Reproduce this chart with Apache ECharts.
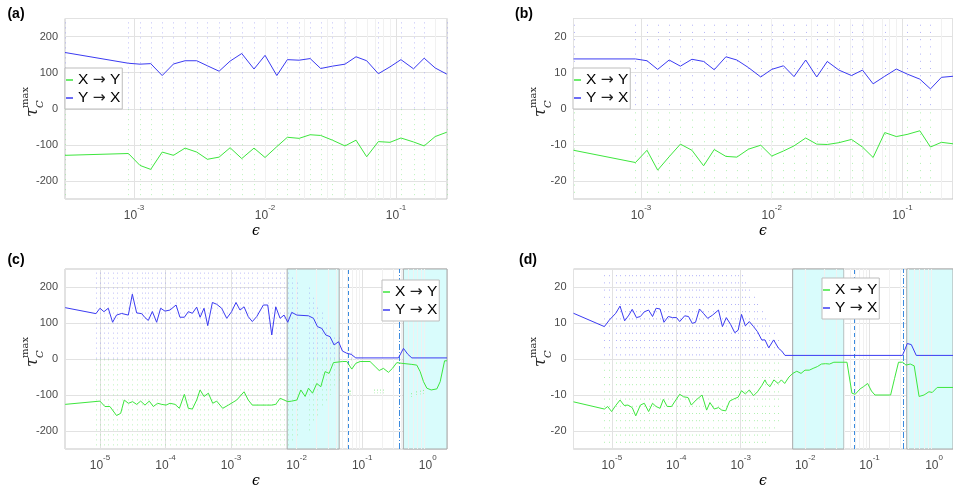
<!DOCTYPE html>
<html><head><meta charset="utf-8">
<script src="https://cdn.jsdelivr.net/npm/echarts@6/dist/echarts.min.js"></script>
<style>html,body{margin:0;padding:0;background:#fff}#c{width:953px;height:490px}</style>
</head><body><div id="c"></div>
<script>
// ---------- data ----------
const abEps = [2.97e-4, 9.06e-4, 1.11e-3, 1.34e-3, 1.64e-3, 2.00e-3, 2.45e-3, 3.01e-3, 3.63e-3, 4.46e-3, 5.41e-3, 6.64e-3, 8.24e-3, 1.00e-2, 1.23e-2, 1.48e-2, 1.82e-2, 2.21e-2, 2.66e-2, 3.27e-2, 4.08e-2, 4.95e-2, 5.97e-2, 7.33e-2, 8.99e-2, 0.109, 0.136, 0.164, 0.199, 0.244];
const aBlue = [155.8,126,123.5,125,92,124,133,133,119,104,132,153,110,148,92,136,134.5,139,111.5,118,123.5,144,133,97,116,136,110.6,140,113,96];
const aGreen = [-129,-124,-157,-168,-120,-129,-109,-120,-140,-134,-108,-138,-109,-135,-105,-79,-82,-72,-74,-87,-103,-87,-133,-91,-93,-81,-92,-103,-77,-65];
const bEps = [3.04e-4, 9.06e-4, 1.11e-3, 1.34e-3, 1.64e-3, 2.00e-3, 2.45e-3, 3.01e-3, 3.63e-3, 4.46e-3, 5.41e-3, 6.64e-3, 8.24e-3, 1.00e-2, 1.23e-2, 1.48e-2, 1.82e-2, 2.21e-2, 2.66e-2, 3.27e-2, 4.08e-2, 4.95e-2, 5.97e-2, 7.33e-2, 8.99e-2, 0.109, 0.136, 0.164, 0.199, 0.244];
const bBlue = [13.8,13.8,13.3,10.9,13.5,11.8,13.7,13.1,10.8,14.4,13.5,11.4,8.8,10.9,11.9,8.9,13.5,8.8,13.1,10.7,9.2,10.7,6.9,9.0,11.0,9.6,8.2,5.5,8.7,9.0];
const bGreen = [-11.5,-14.9,-11.5,-17.0,-13.3,-9.8,-11.5,-15.8,-11.3,-13.2,-13.4,-11.2,-10.1,-13.1,-11.7,-10.3,-8.1,-9.8,-9.9,-9.4,-8.5,-10.6,-13.5,-6.6,-7.7,-7.1,-6.1,-10.6,-9.3,-9.7];

const cBlueEps = [2.95e-6,8.69e-6,1.00e-5,1.15e-5,1.34e-5,1.56e-5,1.79e-5,2.14e-5,2.71e-5,3.12e-5,3.63e-5,4.33e-5,4.86e-5,5.47e-5,6.30e-5,7.33e-5,8.43e-5,9.82e-5,1.17e-4,1.45e-4,1.66e-4,1.94e-4,2.23e-4,2.57e-4,2.99e-4,3.37e-4,3.87e-4,4.41e-4,5.19e-4,6.04e-4,7.19e-4,8.59e-4,1.02e-3,1.19e-3,1.37e-3,1.58e-3,1.83e-3,2.11e-3,2.47e-3,3.11e-3,3.63e-3,4.18e-3,4.81e-3,5.60e-3,6.44e-3,7.33e-3,8.43e-3,1.01e-2,1.52e-2,1.81e-2,2.08e-2,2.42e-2,2.79e-2,3.24e-2,3.73e-2,4.36e-2,5.01e-2,5.83e-2,6.79e-2,8.0e-2,0.358,0.427,0.498,0.573,1.97];
const cBlue = [142.6,126,141,131.5,141,102,122,126.5,122,180,128,126,115,107,132,102,141,133,136,150,116,116,131.5,127,144,116,141,92.6,157,152,141,113,131.5,157,136,145,117.6,104,118,150,150,66.7,145,113,122,102,129.6,122,120,113,90,85,66.7,62,39,48,22,16,13,3,3,29.6,13,3,3];
const cGreenEps = [2.95e-6,1.00e-5,1.19e-5,1.42e-5,1.79e-5,2.07e-5,2.35e-5,2.71e-5,3.15e-5,3.63e-5,4.18e-5,4.86e-5,5.66e-5,6.52e-5,7.59e-5,8.73e-5,1.02e-4,1.17e-4,1.40e-4,1.63e-4,1.94e-4,2.23e-4,2.57e-4,2.99e-4,3.37e-4,3.87e-4,4.51e-4,5.25e-4,6.04e-4,7.46e-4,9.10e-4,1.22e-3,1.58e-3,1.83e-3,2.11e-3,2.77e-3,3.50e-3,4.18e-3,4.81e-3,5.60e-3,6.44e-3,7.33e-3,8.43e-3,1.01e-2,1.16e-2,1.35e-2,1.52e-2,1.75e-2,2.03e-2,2.34e-2,2.72e-2,3.13e-2,3.65e-2,5.01e-2,5.83e-2,6.95e-2,8.0e-2,9.31e-2,0.132,0.158,0.182,0.211,0.252,0.290,0.338,0.403,0.573,0.682,0.767,0.863,0.970,1.13,1.38,1.55,1.81,1.97];
const cGreen = [-126,-117,-132,-132,-157,-151,-114,-123,-118.5,-126,-117,-128,-117,-132,-123,-126,-128,-123,-126,-137,-98,-137,-139,-114,-86,-104,-95,-123,-117,-137,-128,-114,-91,-114,-128,-128,-128,-128,-126,-109,-114,-118.5,-117,-114,-86,-104,-81,-95,-68,-77,-35,-40,-10,-7,-7,-28,-12,-7,-7,-21,-32,-26,-37,-26,-10,-12,-15,-17,-35,-63,-81,-86,-83,-63,-5,-5];

const dBlueEps = [2.54e-6,7.66e-6,9.12e-6,1.15e-5,1.34e-5,1.58e-5,1.84e-5,2.07e-5,2.41e-5,2.77e-5,3.19e-5,3.72e-5,4.28e-5,4.86e-5,5.60e-5,6.44e-5,7.50e-5,8.73e-5,1.01e-4,1.13e-4,1.35e-4,1.55e-4,1.77e-4,1.99e-4,2.29e-4,2.63e-4,3.07e-4,3.66e-4,4.52e-4,5.20e-4,5.98e-4,6.97e-4,8.09e-4,9.12e-4,1.03e-3,1.18e-3,1.36e-3,1.58e-3,1.82e-3,2.12e-3,2.38e-3,2.72e-3,3.24e-3,3.85e-3,4.34e-3,4.86e-3,0.324,0.385,0.444,0.530,1.97];
const dBlue = [12.7,9.0,10.8,12.7,14.7,10.6,12.2,13.8,11.5,11.8,13.1,13.6,11.8,14.1,13.9,10.2,11.8,11.5,11.5,10.4,12.0,11.8,9.9,10.2,13.9,12.7,11.3,12.2,13.6,9.0,11.5,9.6,7.3,8.0,12.4,9.2,10.4,9.0,7.6,5.3,5.3,3.1,5.3,3.0,2.2,1.0,1.0,4.3,4.0,1.0,1.0];
const dGreenEps = [2.54e-6,7.66e-6,8.61e-6,9.91e-6,1.15e-5,1.34e-5,1.55e-5,1.78e-5,2.07e-5,2.35e-5,2.77e-5,3.19e-5,3.72e-5,4.28e-5,4.86e-5,5.60e-5,6.30e-5,7.24e-5,8.43e-5,9.82e-5,1.13e-4,1.30e-4,1.52e-4,1.71e-4,2.03e-4,2.51e-4,2.96e-4,3.33e-4,3.88e-4,4.52e-4,5.08e-4,5.85e-4,6.73e-4,7.83e-4,9.12e-4,1.03e-3,1.18e-3,1.36e-3,1.58e-3,1.82e-3,2.12e-3,2.38e-3,2.52e-3,2.84e-3,3.27e-3,3.80e-3,4.28e-3,4.81e-3,5.60e-3,6.44e-3,7.41e-3,8.63e-3,9.93e-3,1.16e-2,1.33e-2,1.55e-2,1.79e-2,2.08e-2,2.39e-2,2.79e-2,4.46e-2,5.32e-2,5.98e-2,7.13e-2,8.02e-2,9.33e-2,0.107,0.121,0.212,0.244,0.281,0.327,0.367,0.428,0.492,0.586,0.700,0.834,0.938,1.12,1.97];
const dGreen = [-11.9,-13.9,-13.2,-14.6,-12.9,-11.4,-12.9,-12.8,-13.5,-15.8,-12.8,-12.3,-14.6,-12.3,-13.2,-13.7,-11.2,-13.2,-13.2,-11.4,-9.8,-10.5,-10.7,-12.8,-11.4,-10.0,-14.2,-12.1,-13.9,-13.5,-14.2,-14.4,-11.7,-11.1,-10.6,-8.8,-9.7,-8.6,-10.2,-9.1,-7.4,-5.8,-6.8,-7.7,-5.8,-6.8,-5.8,-6.8,-5.0,-4.0,-3.4,-4.0,-3.1,-3.1,-2.6,-2.1,-1.4,-1.3,-1.4,-0.9,-0.9,-9.5,-9.8,-8.3,-7.7,-6.8,-8.9,-10.0,-10.0,-5.4,-0.9,-0.9,-1.7,-1.4,-1.9,-10.4,-10.0,-9.1,-9.3,-7.9,-7.9];

// scatter spread of individual realisations: column eps, upper (blue) / lower (green) extent
const abDotTop = [250,250,250,250,250,250,250,250,250,250,250,250,250,250,250,250,250,250,250,250,250,250,250,250,250,250,250,250,250,250];
const abDotBot = [-250,-250,-250,-250,-250,-250,-250,-250,-250,-250,-250,-250,-250,-250,-250,-250,-250,-250,-250,-250,-250,-250,-250,-250,-250,-250,-250,-250,-250,-250];
const bDotTop = [25,25,25,25,25,25,25,25,25,25,25,25,25,25,25,25,25,25,25,25,25,25,25,25,25,25,25,25,25,25];
const bDotBot = [-25,-25,-25,-25,-25,-25,-25,-25,-25,-25,-25,-25,-25,-25,-25,-25,-25,-25,-25,-25,-25,-25,-25,-25,-25,-25,-25,-25,-25,-25];
const cDotEps = [8.69e-6,1.00e-5,1.15e-5,1.34e-5,1.56e-5,1.79e-5,2.14e-5,2.71e-5,3.12e-5,3.63e-5,4.33e-5,4.86e-5,5.47e-5,6.30e-5,7.33e-5,8.43e-5,9.82e-5,1.17e-4,1.45e-4,1.66e-4,1.94e-4,2.23e-4,2.57e-4,2.99e-4,3.37e-4,3.87e-4,4.41e-4,5.19e-4,6.04e-4,7.19e-4,8.59e-4,1.02e-3,1.19e-3,1.37e-3,1.58e-3,1.83e-3,2.11e-3,2.47e-3,3.11e-3,3.63e-3,4.18e-3,4.81e-3,5.60e-3,6.44e-3,7.33e-3,8.43e-3,1.01e-2,1.52e-2,1.81e-2,2.08e-2,2.42e-2,2.79e-2,3.24e-2,3.73e-2,4.36e-2,5.01e-2,5.83e-2,6.79e-2,8.0e-2];
const cDotTop = [250,250,250,250,250,250,250,250,250,250,250,250,250,250,250,250,250,250,250,250,250,250,250,250,250,250,250,250,250,250,250,250,250,250,250,250,250,250,250,250,250,250,250,250,240,230,220,200,170,150,130,110,90,70,60,40,30,20,15];
const cDotBot = [-250,-250,-250,-250,-250,-250,-250,-250,-250,-250,-250,-250,-250,-250,-250,-250,-250,-250,-250,-250,-250,-250,-250,-250,-250,-250,-250,-250,-250,-250,-250,-250,-250,-250,-250,-250,-250,-250,-250,-250,-250,-250,-250,-250,-240,-230,-220,-200,-180,-160,-140,-120,-100,-80,-60,-40,-30,-20,-15];
// isolated green clusters near -90 in (c)
const cClusterEps = [6.2e-2, 6.6e-2, 0.15, 0.17, 0.19, 0.21, 0.55, 0.66, 0.76, 0.86];
const cClusterLo = [-88, -88, -85, -85, -85, -85, -95, -90, -88, -86];
const cClusterHi = [-98, -98, -95, -95, -95, -95, -105, -100, -98, -96];
const dDotEps = [7.66e-6,9.12e-6,1.15e-5,1.34e-5,1.58e-5,1.84e-5,2.07e-5,2.41e-5,2.77e-5,3.19e-5,3.72e-5,4.28e-5,4.86e-5,5.60e-5,6.44e-5,7.50e-5,8.73e-5,1.01e-4,1.13e-4,1.35e-4,1.55e-4,1.77e-4,1.99e-4,2.29e-4,2.63e-4,3.07e-4,3.66e-4,4.52e-4,5.20e-4,5.98e-4,6.97e-4,8.09e-4,9.12e-4,1.03e-3,1.18e-3,1.36e-3,1.58e-3,1.82e-3,2.12e-3,2.38e-3,2.72e-3,3.24e-3,3.85e-3];
const dDotTop = [25,25,25,25,25,25,25,25,25,25,25,25,25,25,25,25,25,25,25,25,25,25,25,25,25,25,25,25,25,25,25,25,25,25,22,20,18,16,14,12,10,8,6];
const dDotBot = [-25,-25,-25,-25,-25,-25,-25,-25,-25,-25,-25,-25,-25,-25,-25,-25,-25,-25,-25,-25,-25,-25,-25,-25,-25,-25,-25,-25,-25,-25,-25,-25,-25,-25,-25,-25,-25,-25,-25,-25,-22,-20,-18];

// shaded regions & marker lines (c, d)
const cBands = [[7.18e-3, 4.46e-2], [0.425, 1.97]];
const cDashed = 5.98e-2, cDashDot = 0.368;
const dBands = [[6.4e-3, 4.0e-2], [0.377, 1.97]];
const dDashed = 5.64e-2, dDashDot = 0.327;

// ---------- chart ----------
const BLUE = '#3b3bf2', GREEN = '#3de63d';
const DOTB = '#8080f4', DOTG = '#7de87d';
const MARK = '#3a8ade';
const chart = echarts.init(document.getElementById('c'), null, {renderer: 'canvas'});

const grids = [
  {left: 65, top: 18.5, width: 382, height: 180.5},
  {left: 573.5, top: 18.5, width: 384, height: 180.5},
  {left: 65, top: 269, width: 382, height: 180},
  {left: 573.5, top: 269, width: 386, height: 180}
];
const xr = [[2.97e-4, 0.245], [3.04e-4, 0.244], [2.93e-6, 1.97], [2.54e-6, 1.97]];
const yr = [250, 25, 250, 25];
const ystep = [100, 10, 100, 10];

function xFmt(v) {
  const e = Math.round(Math.log10(v));
  if (Math.abs(v / Math.pow(10, e) - 1) > 1e-6) return '';
  return '{b|10}{s|' + e + '}';
}
const xAxes = grids.map((g, i) => ({
  type: 'log', logBase: 10, gridIndex: i, min: xr[i][0], max: xr[i][1],
  axisLine: {show: false}, axisTick: {show: false},
  splitLine: {show: true, lineStyle: {color: '#e2e2e2', width: 1}},
  axisLabel: {
    formatter: xFmt, margin: 5, showMinLabel: false, showMaxLabel: false,
    rich: {
      b: {fontSize: 12, fontFamily: 'Liberation Sans', color: '#4a4a4a', lineHeight: 18, verticalAlign: 'bottom'},
      s: {fontSize: 8, fontFamily: 'Liberation Sans', color: '#4a4a4a', lineHeight: 11, verticalAlign: 'top'}
    }
  }
}));
const yAxes = grids.map((g, i) => ({
  type: 'value', gridIndex: i, min: -yr[i], max: yr[i], splitNumber: 5,
  axisLine: {show: false}, axisTick: {show: false},
  splitLine: {show: true, lineStyle: {color: '#e2e2e2'}},
  axisLabel: {
    margin: 7, fontSize: 11, fontFamily: 'Liberation Sans', color: '#4a4a4a',
    showMinLabel: false, showMaxLabel: false,
    formatter: v => (Math.abs(v % ystep[i]) < 1e-9 ? String(v) : '')
  }
}));

// minor log gridlines (2..9 x 10^k) as axis decoration
function minorLines(i) {
  const out = [];
  for (let k = -7; k <= 1; k++) for (let m = 2; m <= 9; m++) {
    const v = m * Math.pow(10, k);
    if (v > xr[i][0] && v < xr[i][1]) out.push({xAxis: v});
  }
  return out;
}

function segRender(color, dash, op) {
  return function (params, api) {
    const p1 = api.coord([api.value(0), api.value(1)]);
    const p2 = api.coord([api.value(0), api.value(2)]);
    const x = Math.round(p1[0]) + 0.5;
    return {type: 'line', silent: true,
      shape: {x1: x, y1: p1[1], x2: x, y2: p2[1]},
      style: {stroke: color, lineWidth: 1, lineDash: dash, opacity: op}};
  };
}
function segSeries(i, color, dash, op, data, z) {
  return {type: 'custom', xAxisIndex: i, yAxisIndex: i, z: z || 3, silent: true,
    renderItem: segRender(color, dash, op), encode: {x: 0, y: [1, 2]}, data: data, animation: false};
}

const series = [];
function addPanel(i, eB, vB, eG, vG, dotEps, dotTop, dotBot, dash, op, bands, dashed, dashdot) {
  series.push({
    type: 'line', xAxisIndex: i, yAxisIndex: i, data: [], z: 1, silent: true,
    showSymbol: false, animation: false, color: '#f1f1f1',
    markLine: {silent: true, symbol: ['none', 'none'], label: {show: false}, animation: false,
      lineStyle: {color: '#f1f1f1', type: 'solid', width: 1}, data: minorLines(i)}
  });
  if (bands) {
    series.push({
      type: 'line', xAxisIndex: i, yAxisIndex: i, data: [], z: 2, silent: true, animation: false,
      color: '#d9fcfc',
      markArea: {silent: true, label: {show: false},
        itemStyle: {color: '#d9fcfc', borderColor: '#a9a9a9', borderWidth: 1},
        data: bands.map(b => [{xAxis: b[0]}, {xAxis: b[1]}])}
    });
  }
  series.push(segSeries(i, DOTB, dash, op, dotEps.map((e, k) => [e, 1, dotTop[k]])));
  series.push(segSeries(i, DOTG, dash, op, dotEps.map((e, k) => [e, -1, dotBot[k]])));
  if (bands) {
    series.push(segSeries(i, MARK, [4, 3], 1, [[dashed, -yr[i], yr[i]]], 4));
    series.push(segSeries(i, MARK, [6, 2, 1, 2], 1, [[dashdot, -yr[i], yr[i]]], 4));
  }
  series.push({type: 'line', name: 'X → Y', xAxisIndex: i, yAxisIndex: i, z: 5, showSymbol: false,
    animation: false, color: GREEN, lineStyle: {width: 1, color: GREEN},
    data: eG.map((e, k) => [e, vG[k]])});
  series.push({type: 'line', name: 'Y → X', xAxisIndex: i, yAxisIndex: i, z: 5, showSymbol: false,
    animation: false, color: BLUE, lineStyle: {width: 1, color: BLUE},
    data: eB.map((e, k) => [e, vB[k]])});
}
addPanel(0, abEps, aBlue, abEps, aGreen, abEps, abDotTop, abDotBot, [1, 4], 0.5, null);
addPanel(1, bEps, bBlue, bEps, bGreen, bEps, bDotTop, bDotBot, [1, 6.22], 0.6, null);
addPanel(2, cBlueEps, cBlue, cGreenEps, cGreen, cDotEps, cDotTop, cDotBot, [1, 4], 0.5, cBands, cDashed, cDashDot);
addPanel(3, dBlueEps, dBlue, dGreenEps, dGreen, dDotEps, dDotTop, dDotBot, [1, 6.2], 0.6, dBands, dDashed, dDashDot);
series.push(segSeries(2, DOTG, [1, 2], 0.8, cClusterEps.map((e, k) => [e, cClusterLo[k], cClusterHi[k]])));

const legendPos = [[65, 68], [573, 68], [382, 280], [822, 278]];
const legends = legendPos.map(p => ({
  left: p[0], top: p[1], orient: 'vertical', data: ['X → Y', 'Y → X'], z: 50,
  backgroundColor: '#fff', borderColor: '#bdbdbd', borderWidth: 1, borderRadius: 0,
  padding: [4, 2, 3, 1], itemGap: 2, itemWidth: 7, itemHeight: 1.5, icon: 'rect',
  selectedMode: false,
  formatter: n => '{t|' + n.charAt(0) + ' }{a|→}{t| ' + n.charAt(4) + '}',
  textStyle: {fontSize: 15.5, color: '#000', fontFamily: 'Liberation Sans',
    rich: {t: {fontSize: 15.5, fontFamily: 'Liberation Sans', color: '#000'},
           a: {fontSize: 15.5, fontFamily: 'DejaVu Sans', color: '#222'}}}
}));

function yName(x, y) {
  return {type: 'group', x: x, y: y, rotation: Math.PI / 2, silent: true, children: [
    {type: 'text', x: 0, y: 0, style: {text: 'τ', font: 'italic 17px "DejaVu Serif"', fill: '#262626', verticalAlign: 'middle'}},
    {type: 'text', x: 9, y: -3, style: {text: 'max', font: '10px "DejaVu Serif"', fill: '#262626', verticalAlign: 'bottom'}},
    {type: 'text', x: 9, y: 2, style: {text: 'C', font: 'italic 10px "DejaVu Serif"', fill: '#262626', verticalAlign: 'top'}}
  ]};
}
function txt(x, y, t, font) {
  return {type: 'text', x: x, y: y, silent: true, style: {text: t, font: font, fill: '#000', align: 'center', verticalAlign: 'middle'}};
}
const graphic = [
  txt(16, 14, '(a)', 'bold 14px "Liberation Sans"'),
  txt(524, 14, '(b)', 'bold 14px "Liberation Sans"'),
  txt(16, 260, '(c)', 'bold 14px "Liberation Sans"'),
  txt(528, 260, '(d)', 'bold 14px "Liberation Sans"'),
  txt(256, 231, 'ϵ', 'italic 14px "DejaVu Serif"'),
  txt(763, 231, 'ϵ', 'italic 14px "DejaVu Serif"'),
  txt(256, 481, 'ϵ', 'italic 14px "DejaVu Serif"'),
  txt(763, 481, 'ϵ', 'italic 14px "DejaVu Serif"'),
  yName(33, 117), yName(541, 117), yName(33, 367), yName(541, 367)
];

chart.setOption({
  animation: false,
  backgroundColor: '#fff',
  grid: grids.map(g => Object.assign({show: true, borderColor: '#c4c4c4', borderWidth: 1, backgroundColor: 'transparent', containLabel: false}, g)),
  xAxis: xAxes, yAxis: yAxes,
  legend: legends,
  series: series,
  graphic: graphic
});
</script></body></html>
